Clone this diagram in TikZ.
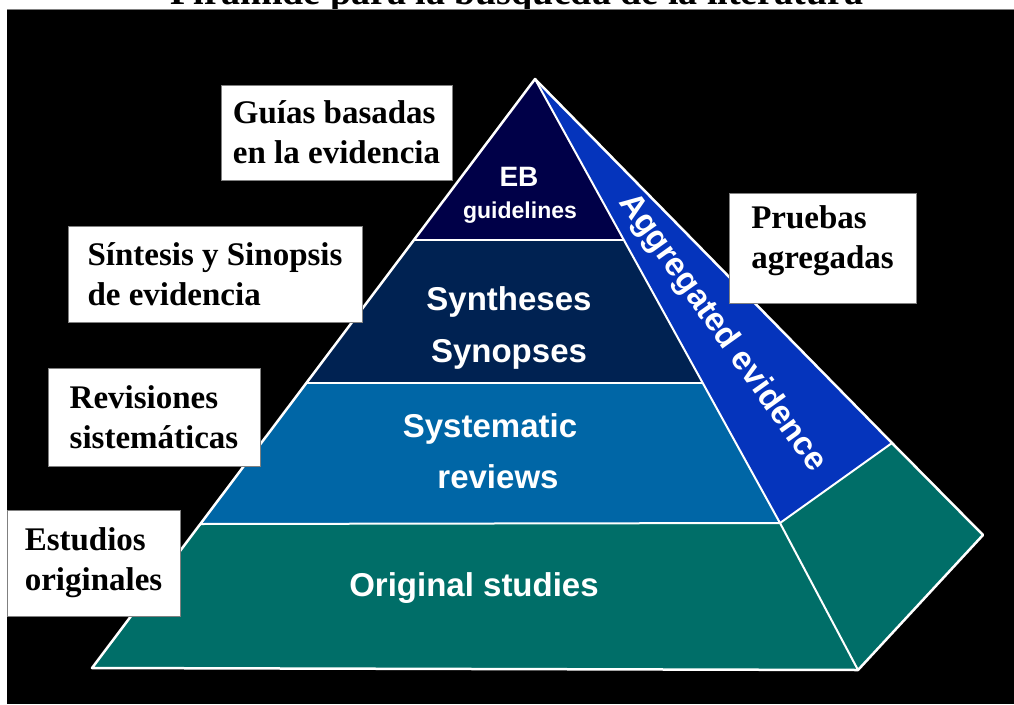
\documentclass[tikz,border=0pt]{standalone}
\usepackage{fontspec}
\setmainfont{Liberation Serif}
\newfontfamily\arialfont{Liberation Sans}
\newcommand\lblfont{\bfseries\fontsize{33}{40}\selectfont}
\newcommand\ptfont{\arialfont\bfseries\fontsize{33}{38}\selectfont}
\newcommand\titlefont{\bfseries\fontsize{38}{44}\selectfont}
\definecolor{ebcol}{RGB}{0,0,72}
\definecolor{syncol}{RGB}{0,34,82}
\definecolor{syscol}{RGB}{0,102,166}
\definecolor{origcol}{RGB}{0,110,104}
\definecolor{aggcol}{RGB}{5,52,188}
\begin{document}
\begin{tikzpicture}[x=1pt,y=-1pt,
  outeredge/.style={draw=white,line width=2.5pt,line join=round},
  inneredge/.style={draw=white,line width=2pt,line join=round},
  lbl/.style={fill=white,draw=gray,line width=1pt,font=\lblfont,align=left,inner sep=0pt,anchor=center},
  ptext/.style={text=white,font=\ptfont,inner sep=0pt,anchor=base},
]
\useasboundingbox (0,0) rectangle (1014,704);
\fill[white] (0,0) rectangle (1014,704);
\node[font=\titlefont,anchor=base,inner sep=0pt] (title) at (517,5) {Pirámide para la búsqueda de la literatura};
\fill[black] (7,10) rectangle (1014,704);
\draw[gray,line width=1pt] (7,9.5) -- (1014,9.5);

% pyramid geometry
\coordinate (apex) at (535,79);
\coordinate (l1) at (414,240); \coordinate (r1) at (624,240);
\coordinate (l2) at (306,383); \coordinate (r2) at (703,383);
\coordinate (l3) at (200,524); \coordinate (r3) at (780,523);
\coordinate (l4) at (92,668);  \coordinate (r4) at (858,670);
\coordinate (ao) at (892,443); \coordinate (bk) at (983,535);

\fill[ebcol] (apex)--(r1)--(l1)--cycle;
\fill[syncol] (l1)--(r1)--(r2)--(l2)--cycle;
\fill[syscol] (l2)--(r2)--(r3)--(l3)--cycle;
\fill[origcol] (l3)--(r3)--(r4)--(l4)--cycle;
\fill[aggcol] (apex)--(ao)--(r3)--cycle;
\fill[origcol] (r3)--(ao)--(bk)--(r4)--cycle;

\draw[inneredge] (l1)--(r1);
\draw[inneredge] (l2)--(r2);
\draw[inneredge] (l3)--(r3);
\draw[inneredge] (apex)--(r3)--(r4);
\draw[inneredge] (r3)--(ao);
\draw[outeredge] (apex)--(ao)--(bk)--(r4)--(l4)--cycle;

% texts on the pyramid
\node[ptext,font=\arialfont\bfseries\fontsize{28}{30}\selectfont] (eb) at (519,186) {EB};
\node[ptext,font=\arialfont\bfseries\fontsize{23}{26}\selectfont] (guide) at (520,218) {guidelines};
\node[ptext] (syn1) at (509,310) {Syntheses};
\node[ptext] (syn2) at (509,362) {Synopses};
\node[ptext] (sys1) at (490,437) {Systematic};
\node[ptext] (sys2) at (498,488) {reviews};
\node[ptext] (orig) at (474,596) {Original studies};
\node[ptext,anchor=center,rotate=-54.5] (agg) at (722,333) {Aggregated evidence};

% label boxes
\node[lbl,minimum width=231pt,minimum height=95pt] (guias) at (336.5,132.5) {Guías basadas\\en la evidencia};
\node[lbl,minimum width=294pt,minimum height=96pt] (sintesis) at (215,274) {Síntesis y Sinopsis\\de evidencia};
\node[lbl,minimum width=212pt,minimum height=98pt] (revis) at (154,417) {Revisiones\\sistemáticas};
\node[lbl,minimum width=173pt,minimum height=106pt] (estud) at (93.5,563) {Estudios\\originales};
\node[lbl,minimum width=187pt,minimum height=110pt,text depth=21pt] (pruebas) at (822.5,248) {Pruebas\\agregadas};
\end{tikzpicture}
\end{document}
